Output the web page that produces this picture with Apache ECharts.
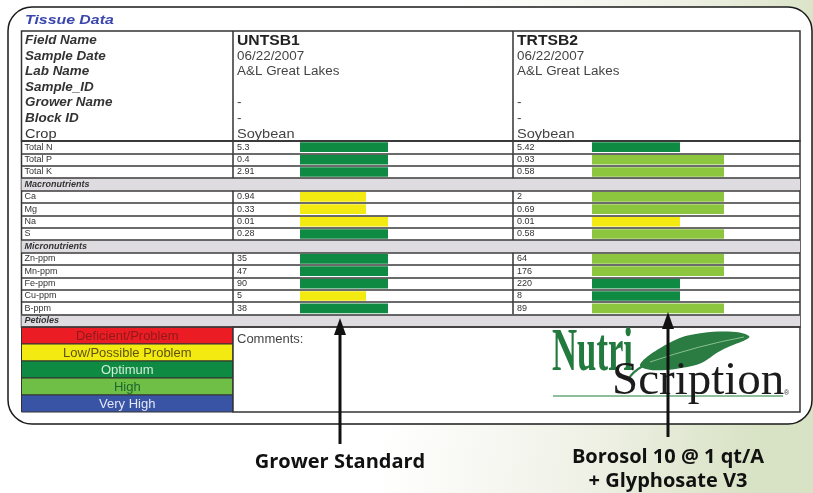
<!DOCTYPE html>
<html><head><meta charset="utf-8">
<script src="https://cdn.jsdelivr.net/npm/echarts@6/dist/echarts.min.js"></script>
<style>html,body{margin:0;padding:0;background:#fff}#c{width:813px;height:493px}</style>
</head><body><div id="c"></div><script>
// ---- data ----
const rowLabels = ['Total N','Total P','Total K','Macronutrients','Ca','Mg','Na','S','Micronutrients','Zn-ppm','Mn-ppm','Fe-ppm','Cu-ppm','B-ppm','Petioles'];
const bandRows = ['Macronutrients','Micronutrients','Petioles'];
const growerValues = ['5.3','0.4','2.91','','0.94','0.33','0.01','0.28','','35','47','90','5','38',''];
const growerLevels = [4,4,4,null,3,3,4,4,null,4,4,4,3,4,null];
const growerStatus = ['Optimum','Optimum','Optimum',null,'Low','Low','Low','Optimum',null,'Optimum','Optimum','Optimum','Low','Optimum',null];
const borosolValues = ['5.42','0.93','0.58','','2','0.69','0.01','0.58','','64','176','220','8','89',''];
const borosolLevels = [4,6,6,null,6,6,4,6,null,6,6,4,4,6,null];
const borosolStatus = ['Optimum','High','High',null,'High','High','Low','High',null,'High','High','Optimum','Optimum','High',null];
const legendNames = ['Deficient/Problem','Low/Possible Problem','Optimum','High','Very High'];
const legendColors = ['#ec1c24','#f3ea12','#0f8a43','#6fbe46','#3a54a5'];
const legendTextColors = ['#8e1a1c','#5e5210','#d2ecd9','#1d672e','#e2e6f7'];
const statusColors = {Deficient:'#ec1c24', Low:'#f3ea12', Optimum:'#0f8a43', High:'#8cc63f', VeryHigh:'#3a54a5'};
const infoLabels = ['Field Name','Sample Date','Lab Name','Sample_ID','Grower Name','Block ID','Crop'];
const growerInfo = ['UNTSB1','06/22/2007','A&L Great Lakes','','-','-','Soybean'];
const borosolInfo = ['TRTSB2','06/22/2007','A&L Great Lakes','','-','-','Soybean'];
const titleText = 'Tissue Data';
const commentsText = 'Comments:';
const calloutLeft = ['Grower Standard'];
const calloutRight = ['Borosol 10 @ 1 qt/A', '+ Glyphosate V3'];

// ---- layout ----
const TL = 21.5, TR = 800, C1 = 233, C2 = 513, HT = 31, DT = 141, RH = 12.4;
const NR = rowLabels.length, DB = DT + NR * RH, LB = 412;
const FF = '"Liberation Sans", Arial, sans-serif';

const chart = echarts.init(document.getElementById('c'), null, {renderer: 'canvas'});

const g = [];
// background
g.push({type:'rect', z:-20, shape:{x:0,y:0,width:813,height:493},
  style:{fill:new echarts.graphic.LinearGradient(0,0,1,0.3,[{offset:0,color:'#ffffff'},{offset:0.55,color:'#ffffff'},{offset:0.8,color:'#eff1e6'},{offset:1,color:'#d8e2c4'}])}});
g.push({type:'rect', z:-15, shape:{x:8,y:7,width:804,height:417,r:24}, style:{fill:'#ffffff', stroke:'#1a1a1a', lineWidth:1.5}});
// title
g.push({type:'text', z:5, x:25, y:20, scaleX:1.22, style:{text:titleText, fontSize:13, fontWeight:'bold', fontStyle:'italic', fontFamily:FF, fill:'#3a47ad', verticalAlign:'middle'}});
// header frame
g.push({type:'rect', z:1, shape:{x:TL,y:HT,width:TR-TL,height:DT-HT}, style:{fill:'none', stroke:'#333', lineWidth:1.5}});
[C1, C2].forEach(cx => g.push({type:'line', z:1, shape:{x1:cx,y1:HT,x2:cx,y2:DT}, style:{stroke:'#333', lineWidth:1.5}}));
infoLabels.forEach((t, i) => {
  const y = 41 + i * 15.5;
  const isCrop = t === 'Crop';
  g.push({type:'text', z:5, x:25, y:y, scaleX:1.12, style:{text:t, fontSize:isCrop?13:12, fontWeight:isCrop?'normal':'bold', fontStyle:isCrop?'normal':'italic', fontFamily:FF, fill:'#333', verticalAlign:'middle'}});
  [[C1 + 4, growerInfo[i]], [C2 + 4, borosolInfo[i]]].forEach(([x, v]) => {
    if (!v) return;
    g.push({type:'text', z:5, x:x, y:y, scaleX:1.12, style:{text:v, fontSize:i===0?14:(isCrop?13:12), fontWeight:i===0?'bold':'normal', fontFamily:FF, fill:i===0?'#222':'#444', verticalAlign:'middle'}});
  });
});
// vertical dividers in data rows (not in band rows)
rowLabels.forEach((r, i) => {
  if (bandRows.includes(r)) return;
  [C1, C2].forEach(cx => g.push({type:'line', z:1, shape:{x1:cx,y1:DT+i*RH,x2:cx,y2:DT+(i+1)*RH}, style:{stroke:'#333', lineWidth:1.5}}));
});
// legend box
const LH = (LB - DB) / legendNames.length;
legendNames.forEach((n, i) => {
  g.push({type:'rect', z:3, shape:{x:TL,y:DB+i*LH,width:C1-TL,height:LH}, style:{fill:legendColors[i], stroke:'#333', lineWidth:1}});
  g.push({type:'text', z:6, x:(TL+C1)/2, y:DB+i*LH+LH/2+0.5, style:{text:n, fontSize:13, fontFamily:FF, fill:legendTextColors[i], align:'center', verticalAlign:'middle'}});
});
// comments box
g.push({type:'rect', z:3, shape:{x:C1,y:DB,width:TR-C1,height:LB-DB}, style:{fill:'#fff', stroke:'#333', lineWidth:1.5}});
g.push({type:'text', z:6, x:C1+4, y:DB+12, style:{text:commentsText, fontSize:13, fontFamily:FF, fill:'#444', verticalAlign:'middle'}});
// logo
g.push({type:'line', z:6, shape:{x1:553,y1:396,x2:783,y2:396}, style:{stroke:'#8dbf9c', lineWidth:2}});
g.push({type:'text', z:7, x:552, y:354, scaleX:0.56, style:{text:'Nutri', fontSize:62, fontWeight:'bold', fontFamily:'"Liberation Serif", serif', fill:'#237a3f', verticalAlign:'middle'}});
g.push({type:'polygon', z:8, shape:{points:[[641,367],[662,347],[702,333],[749,336],[722,350],[692,366]], smooth:0.45}, style:{fill:'#2b7c42'}});
g.push({type:'bezierCurve', z:9, shape:{x1:650,y1:362,x2:744,y2:337,cpx1:700,cpy1:345}, style:{fill:'none', stroke:'#86c08f', lineWidth:1}});
g.push({type:'bezierCurve', z:8, shape:{x1:643,y1:366,x2:628,y2:380,cpx1:632,cpy1:372}, style:{fill:'none', stroke:'#2b7c42', lineWidth:2}});
g.push({type:'text', z:9, x:612, y:382, style:{text:'Scription', fontSize:47, fontFamily:'"Liberation Serif", serif', fill:'#1c1c1c', verticalAlign:'middle'}});
g.push({type:'text', z:9, x:784, y:393, style:{text:'®', fontSize:7, fontFamily:FF, fill:'#333', verticalAlign:'middle'}});
// arrows
[[340, 444, 318], [668, 437, 312]].forEach(([x, yb, yt]) => {
  g.push({type:'line', z:20, shape:{x1:x,y1:yb,x2:x,y2:yt+14}, style:{stroke:'#111', lineWidth:3}});
  g.push({type:'polygon', z:20, shape:{points:[[x,yt],[x-6,yt+17],[x+6,yt+17]]}, style:{fill:'#111'}});
});
g.push({type:'text', z:20, x:340, y:462, style:{text:calloutLeft[0], fontSize:20, fontWeight:'bold', fontFamily:'"Open Sans", sans-serif', fill:'#111', align:'center', verticalAlign:'middle'}});
calloutRight.forEach((t, i) => g.push({type:'text', z:20, x:668, y:457 + i * 24, style:{text:t, fontSize:20, fontWeight:'bold', fontFamily:'"Open Sans", sans-serif', fill:'#111', align:'center', verticalAlign:'middle'}}));

const valueLabel = (arr, margin) => ({show:true, align:'left', margin:margin, fontSize:9, color:'#333', fontFamily:FF, interval:0, formatter:(v, i) => arr[i]});
const barData = (levels, status) => levels.map((v, i) => v == null ? '-' : {value:v, itemStyle:{color:statusColors[status[i]]}});

const option = {
  animation:false,
  grid:[
    {left:TL, top:DT, width:TR-TL, height:NR*RH, show:true, borderColor:'#333', borderWidth:1.5, backgroundColor:'transparent'},
    {left:300, top:DT, width:176, height:NR*RH},
    {left:592, top:DT, width:176, height:NR*RH}
  ],
  xAxis:[
    {gridIndex:0, type:'value', min:0, max:1, show:false},
    {gridIndex:1, type:'value', min:0, max:8, show:false},
    {gridIndex:2, type:'value', min:0, max:8, show:false}
  ],
  yAxis:[
    {gridIndex:0, type:'category', data:rowLabels, inverse:true, z:3,
      axisLine:{show:false}, axisTick:{show:false},
      splitLine:{show:true, interval:0, lineStyle:{color:'#3a3a3a', width:1.5}},
      axisLabel:{inside:true, margin:3, fontSize:9, color:'#333', fontFamily:FF, interval:0, formatter:v => bandRows.includes(v) ? '' : v}},
    {gridIndex:1, type:'category', data:rowLabels, inverse:true, axisLine:{show:false}, axisTick:{show:false}, splitLine:{show:false},
      axisLabel:valueLabel(growerValues, 63)},
    {gridIndex:2, type:'category', data:rowLabels, inverse:true, axisLine:{show:false}, axisTick:{show:false}, splitLine:{show:false},
      axisLabel:valueLabel(borosolValues, 75)}
  ],
  series:[
    {type:'bar', name:'bands', xAxisIndex:0, yAxisIndex:0, barWidth:'100%', silent:true,
      data:rowLabels.map(r => bandRows.includes(r) ? 1 : '-'),
      itemStyle:{color:'#dedce1'},
      label:{show:true, position:'insideLeft', distance:3, formatter:p => p.name, fontSize:9, fontWeight:'bold', fontStyle:'italic', color:'#333', fontFamily:FF}},
    {type:'bar', name:'Grower Standard', xAxisIndex:1, yAxisIndex:1, barWidth:'78%', silent:true, data:barData(growerLevels, growerStatus)},
    {type:'bar', name:'Borosol 10', xAxisIndex:2, yAxisIndex:2, barWidth:'78%', silent:true, data:barData(borosolLevels, borosolStatus)}
  ],
  graphic:{elements:g}
};
chart.setOption(option);
</script></body></html>
